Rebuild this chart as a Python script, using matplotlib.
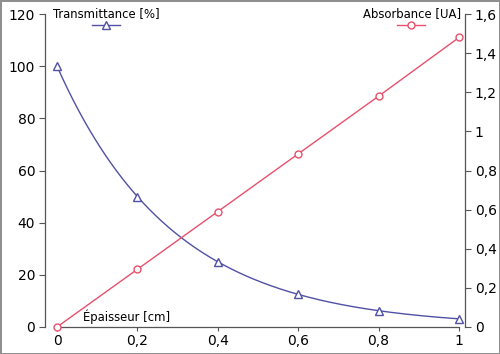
import numpy as np
import matplotlib
matplotlib.use("Agg")
import matplotlib.pyplot as plt
from matplotlib.lines import Line2D
from matplotlib.ticker import FuncFormatter

thickness = [0, 0.2, 0.4, 0.6, 0.8, 1.0]
transmittance = [100, 50, 25, 12.5, 6.25, 3.125]
absorbance = [0, 0.295, 0.59, 0.885, 1.18, 1.48]
x_ticks = [0, 0.2, 0.4, 0.6, 0.8, 1.0]
left_ticks = [0, 20, 40, 60, 80, 100, 120]
right_ticks = [0, 0.2, 0.4, 0.6, 0.8, 1.0, 1.2, 1.4, 1.6]

blue = "#5050a6"
red = "#e8506c"
plt.rcParams['font.family'] = ['DejaVu Sans']

fig = plt.figure(figsize=(5.0, 3.54), dpi=100)
fig.patch.set_edgecolor("#8f8f8f")
fig.patch.set_linewidth(2.0)
ax = fig.add_axes([45/500, 27/354, 420/500, 313/354])
ax2 = ax.twinx()

def fmt(v, pos):
    return ("%g" % round(v, 6)).replace(".", ",")

# smooth transmittance curve (log-linear between measured points)
xs = np.linspace(thickness[0], thickness[-1], 300)
ts = np.exp(np.interp(xs, thickness, np.log(transmittance)))
ax.plot(xs, ts, color=blue, lw=1.0)
ax.plot(thickness, transmittance, ls='none', marker='^', ms=5.5, mfc='white',
        mec=blue, mew=1.0, clip_on=False, zorder=5)
ax2.plot(thickness, absorbance, color=red, lw=1.0, marker='o', ms=5,
         mfc='white', mec=red, mew=1.0, clip_on=False, zorder=5)

ax.set_xlim(-12/402, 1 + 6/402)
ax.set_ylim(0, 120)
ax2.set_ylim(0, 1.6)

for a in (ax, ax2):
    a.spines['top'].set_visible(False)
    a.patch.set_visible(False)
    for s in a.spines.values():
        s.set_color('#555555')
        s.set_linewidth(0.9)
ax.spines['right'].set_visible(False)
ax2.spines['left'].set_visible(False)
ax2.spines['bottom'].set_visible(False)
ax.spines['bottom'].set_bounds(0, 1)
ax.spines['left'].set_bounds(0, 120)
ax2.spines['right'].set_bounds(0, 1.6)

ax.set_xticks(x_ticks)
ax.set_yticks(left_ticks)
ax2.set_yticks(right_ticks)
ax.xaxis.set_major_formatter(FuncFormatter(fmt))
ax.yaxis.set_major_formatter(FuncFormatter(fmt))
ax2.yaxis.set_major_formatter(FuncFormatter(fmt))
ax.tick_params(axis='both', direction='out', length=4, width=0.8,
               color='#555555', labelsize=10, pad=3)
ax2.tick_params(axis='y', direction='out', length=4, width=0.8,
                color='#555555', labelsize=10, pad=3)
ax.tick_params(axis='x', length=3, pad=2)

fig.text(83/500, 37/354, "Épaisseur [cm]", fontsize=8.4, ha='left', va='center')

# key
fig.text(53/500, 340/354, "Transmittance [%]", fontsize=8.4, ha='left', va='center')
fig.text(461/500, 340/354, "Absorbance [UA]", fontsize=8.4, ha='right', va='center')
fig.add_artist(Line2D([92/500, 120/500], [329/354, 329/354], color=blue, lw=1.0))
fig.add_artist(Line2D([106/500], [329/354], color=blue, marker='^', ms=5.5,
                      mfc='white', mec=blue, mew=1.0))
fig.add_artist(Line2D([397/500, 425/500], [329/354, 329/354], color=red, lw=1.0))
fig.add_artist(Line2D([411/500], [329/354], color=red, marker='o', ms=5,
                      mfc='white', mec=red, mew=1.0))

fig.savefig("out.png", dpi=100, edgecolor=fig.get_edgecolor())
